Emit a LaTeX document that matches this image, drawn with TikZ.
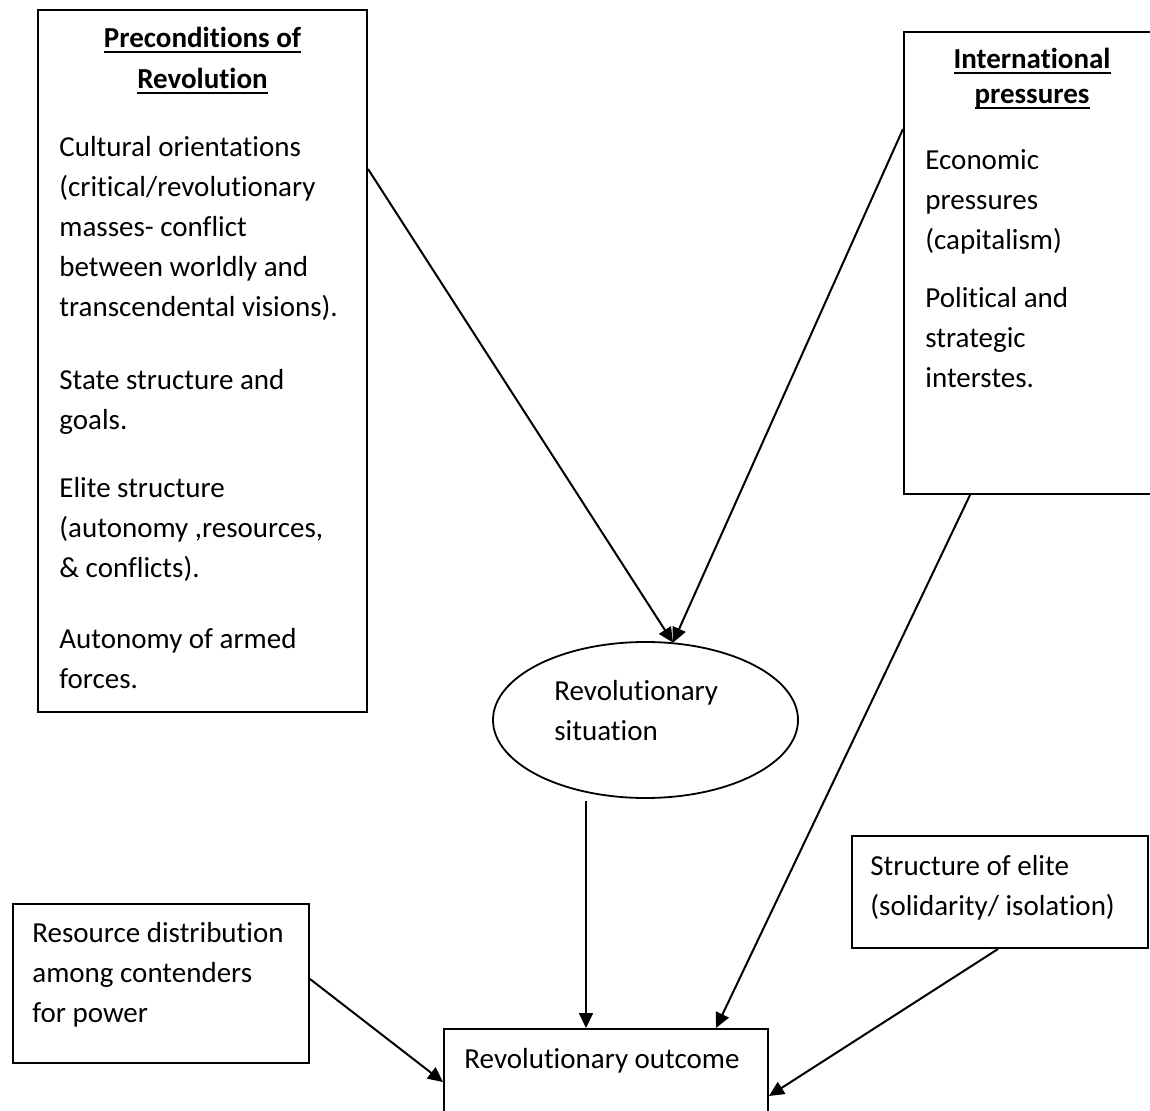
\documentclass[tikz,border=0pt]{standalone}
\usepackage{fontspec}
\setmainfont{Carlito}[Ligatures=NoCommon]
\usetikzlibrary{arrows.meta,shapes.geometric,calc}
\newcommand\lns[1]{\vtop{\baselineskip=20pt\lineskiplimit=-100pt\lineskip=0pt #1}}
\newcommand\myul[1]{\setbox0\hbox{#1}\rlap{\rule[-2.4pt]{\wd0}{0.9pt}}\box0}
\begin{document}
\begin{tikzpicture}[x=0.5pt,y=-0.5pt,
  box/.style={draw, line width=1pt, rectangle, inner sep=0, anchor=north west},
  txt/.style={anchor=base west, inner sep=0, font=\fontsize{14.5}{20}\selectfont},
  hd/.style={anchor=base, inner sep=0, font=\fontsize{14.5}{20}\selectfont\bfseries},
  arr/.style={-{Triangle[length=7.5pt,width=7pt]}, line width=1pt}]
\useasboundingbox (0,0) rectangle (1150,1111);
\clip (0,0) rectangle (1150,1111);

% boxes
\node[box, minimum width=164.5pt, minimum height=351pt] (pre) at (37,9) {};
\node[box, minimum width=160pt, minimum height=231pt] (intl) at (903,31) {};
\node[box, minimum width=148pt, minimum height=79.5pt] (res) at (12,903) {};
\node[box, minimum width=148pt, minimum height=56pt] (elite) at (851,835) {};
\node[box, minimum width=162pt, minimum height=60pt] (out) at (443,1028) {};
\node[draw, ellipse, line width=0.9pt, minimum width=152.5pt, minimum height=78pt, inner sep=0] (sit) at (645.5,720) {};

% left box texts
\node[hd] (preh1) at (202.5,48) {\myul{Preconditions of}};
\node[hd] (preh2) at (202.5,89) {\myul{Revolution}};
\node[txt] (pre1) at (59,157) {\lns{\hbox{Cultural orientations}\hbox{(critical/revolutionary}\hbox{masses- conflict}\hbox{between worldly and}\hbox{transcendental visions).}}};
\node[txt] (pre2) at (59,390) {\lns{\hbox{State structure and}\hbox{goals.}}};
\node[txt] (pre3) at (59,498) {\lns{\hbox{Elite structure}\hbox{(autonomy ,resources,}\hbox{\& conflicts).}}};
\node[txt] (pre4) at (59,648) {\lns{\hbox{Autonomy of armed}\hbox{forces.}}};

% right box texts
\node[hd] (inth1) at (1032,69) {\myul{International}};
\node[hd] (inth2) at (1032,104) {\myul{pressures}};
\node[txt] (int1) at (925,170) {\lns{\hbox{Economic}\hbox{pressures}\hbox{(capitalism)}}};
\node[txt] (int2) at (925,308) {\lns{\hbox{Political and}\hbox{strategic}\hbox{interstes.}}};

% other texts
\node[txt] (sitt) at (554,700) {\lns{\hbox{Revolutionary}\hbox{situation}}};
\node[txt] (elt) at (870,875) {\lns{\hbox{Structure of elite}\hbox{(solidarity/ isolation)}}};
\node[txt] (rest) at (32,942) {\lns{\hbox{Resource distribution}\hbox{among contenders}\hbox{for power}}};
\node[txt, anchor=base] (outt) at (602,1068) {Revolutionary outcome};

% connectors
\coordinate (sitTop) at ($(sit.north)+(27.5,1.5)$);
\draw[arr] ($(pre.north east)+(0,160)$) -- (sitTop);
\draw[arr] ($(intl.north west)+(0,98)$) -- (sitTop);
\draw[arr] ($(intl.south west)+(67,0)$) -- ($(out.north west)+(273,0)$);
\coordinate (outA) at ($(out.north west)+(143,0)$);
\draw[arr] ($(sit.south -| outA)+(0,2)$) -- (outA);
\draw[arr] ($(res.north east)+(0,76)$) -- ($(out.north west)+(0,54)$);
\draw[arr] ($(elite.south west)+(147,0)$) -- ($(out.north east)+(0,68)$);
\end{tikzpicture}
\end{document}
